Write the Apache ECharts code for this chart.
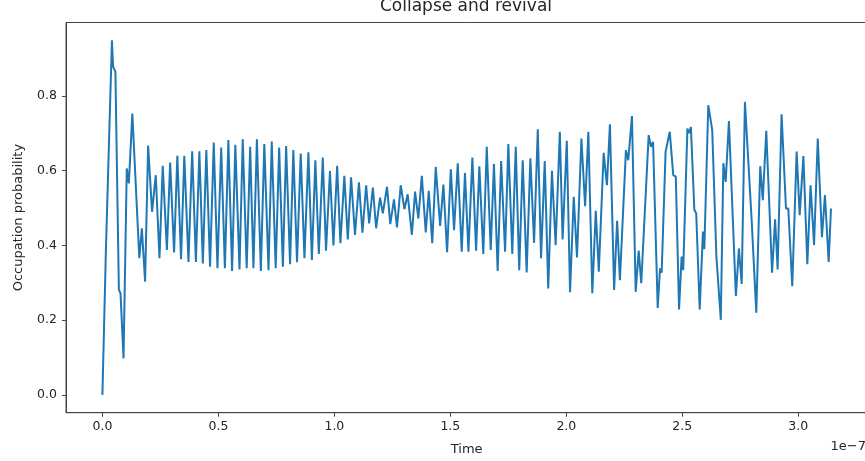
<!DOCTYPE html>
<html>
<head>
<meta charset="utf-8">
<script src="https://cdn.jsdelivr.net/npm/echarts@6/dist/echarts.min.js"></script>
<style>
  html, body { margin: 0; padding: 0; background: #fff; overflow: hidden; }
  #chart { width: 872px; height: 461px; }
</style>
</head>
<body>
<div id="chart"></div>
<script>
// time in units of 1e-7 (matplotlib offset text)
var times = [
  0.000, 0.015, 0.023, 0.041, 0.046, 0.056, 0.071, 0.078, 0.091, 0.105,
  0.114, 0.129, 0.159, 0.170, 0.184, 0.197, 0.214, 0.230, 0.246, 0.260,
  0.278, 0.292, 0.309, 0.323, 0.339, 0.353, 0.371, 0.387, 0.403, 0.418,
  0.433, 0.448, 0.464, 0.480, 0.496, 0.512, 0.528, 0.543, 0.559, 0.573,
  0.591, 0.605, 0.622, 0.637, 0.651, 0.666, 0.683, 0.698, 0.716, 0.730,
  0.747, 0.762, 0.778, 0.792, 0.809, 0.823, 0.839, 0.855, 0.871, 0.888,
  0.903, 0.918, 0.933, 0.950, 0.964, 0.981, 0.996, 1.012, 1.026, 1.043,
  1.058, 1.072, 1.089, 1.106, 1.121, 1.137, 1.150, 1.166, 1.180, 1.197,
  1.209, 1.227, 1.241, 1.257, 1.270, 1.286, 1.302, 1.316, 1.334, 1.348,
  1.362, 1.377, 1.394, 1.407, 1.422, 1.437, 1.456, 1.470, 1.486, 1.502,
  1.516, 1.532, 1.549, 1.563, 1.578, 1.595, 1.611, 1.625, 1.642, 1.657,
  1.674, 1.688, 1.704, 1.719, 1.736, 1.750, 1.767, 1.782, 1.797, 1.812,
  1.829, 1.845, 1.861, 1.877, 1.891, 1.907, 1.922, 1.938, 1.954, 1.972,
  1.984, 2.002, 2.016, 2.032, 2.046, 2.065, 2.081, 2.095, 2.112, 2.127,
  2.140, 2.161, 2.175, 2.188, 2.206, 2.219, 2.231, 2.257, 2.267, 2.283,
  2.299, 2.312, 2.323, 2.355, 2.365, 2.374, 2.394, 2.404, 2.411, 2.428,
  2.446, 2.461, 2.472, 2.486, 2.497, 2.504, 2.522, 2.529, 2.537, 2.552,
  2.560, 2.575, 2.589, 2.595, 2.612, 2.629, 2.647, 2.666, 2.677, 2.687,
  2.701, 2.731, 2.744, 2.756, 2.770, 2.799, 2.819, 2.836, 2.847, 2.862,
  2.887, 2.900, 2.911, 2.928, 2.947, 2.957, 2.974, 2.993, 3.006, 3.022,
  3.039, 3.053, 3.068, 3.084, 3.102, 3.115, 3.131, 3.141
];
var probability = [
  0.000, 0.388, 0.384, 0.949, 0.878, 0.865, 0.281, 0.272, 0.098, 0.606,
  0.566, 0.753, 0.366, 0.446, 0.303, 0.667, 0.490, 0.588, 0.366, 0.613,
  0.388, 0.622, 0.381, 0.640, 0.363, 0.640, 0.356, 0.652, 0.356, 0.652,
  0.352, 0.655, 0.343, 0.675, 0.339, 0.662, 0.339, 0.682, 0.332, 0.669,
  0.336, 0.684, 0.339, 0.664, 0.339, 0.684, 0.332, 0.671, 0.334, 0.678,
  0.339, 0.662, 0.343, 0.666, 0.350, 0.655, 0.355, 0.646, 0.366, 0.649,
  0.361, 0.628, 0.377, 0.635, 0.386, 0.599, 0.400, 0.613, 0.406, 0.586,
  0.416, 0.582, 0.428, 0.569, 0.434, 0.561, 0.459, 0.555, 0.446, 0.528,
  0.486, 0.557, 0.457, 0.523, 0.448, 0.561, 0.497, 0.537, 0.428, 0.544,
  0.472, 0.586, 0.435, 0.546, 0.406, 0.610, 0.452, 0.563, 0.382, 0.604,
  0.441, 0.620, 0.383, 0.594, 0.383, 0.635, 0.386, 0.612, 0.377, 0.664,
  0.388, 0.618, 0.332, 0.626, 0.383, 0.671, 0.377, 0.664, 0.334, 0.628,
  0.328, 0.633, 0.407, 0.711, 0.366, 0.626, 0.285, 0.600, 0.401, 0.704,
  0.416, 0.680, 0.275, 0.530, 0.368, 0.686, 0.505, 0.704, 0.272, 0.493,
  0.330, 0.648, 0.561, 0.724, 0.281, 0.466, 0.307, 0.655, 0.628, 0.746,
  0.276, 0.386, 0.299, 0.695, 0.664, 0.677, 0.233, 0.339, 0.327, 0.651,
  0.704, 0.588, 0.584, 0.229, 0.370, 0.334, 0.713, 0.700, 0.717, 0.495,
  0.486, 0.229, 0.437, 0.390, 0.775, 0.709, 0.370, 0.201, 0.620, 0.570,
  0.733, 0.265, 0.392, 0.297, 0.784, 0.468, 0.220, 0.612, 0.521, 0.707,
  0.327, 0.470, 0.336, 0.751, 0.499, 0.499, 0.291, 0.651, 0.481, 0.639,
  0.350, 0.561, 0.401, 0.686, 0.422, 0.535, 0.356, 0.499
];
var xTicks = [0, 0.5, 1.0, 1.5, 2.0, 2.5, 3.0];
var yTicks = [0, 0.2, 0.4, 0.6, 0.8];

var chartDom = document.getElementById('chart');
var myChart = echarts.init(chartDom, null, { renderer: 'canvas' });

var font = 'DejaVu Sans';
var textColor = '#262626';
var spineColor = '#444';

var points = times.map(function (t, i) { return [t, probability[i]]; });

var option = {
  animation: false,
  textStyle: { fontFamily: font },
  // the figure is cropped on the right: the plot box runs past the window edge
  grid: {
    left: 66,
    top: 22.5,
    width: 801.4,
    height: 390.2,
    show: true,
    borderColor: spineColor,
    borderWidth: 1,
    backgroundColor: 'transparent'
  },
  graphic: [
    {
      type: 'text',
      x: 466,
      y: 6.5,
      style: {
        text: 'Collapse and revival',
        fontFamily: font,
        fontSize: 17,
        fill: textColor,
        align: 'center',
        verticalAlign: 'middle'
      }
    },
    {
      type: 'text',
      x: 866,
      y: 446.5,
      style: {
        text: '1e\u22127',
        fontFamily: font,
        fontSize: 13,
        fill: textColor,
        align: 'right',
        verticalAlign: 'middle'
      }
    }
  ],
  xAxis: {
    type: 'value',
    min: -0.157,
    max: 3.298,
    name: 'Time',
    nameLocation: 'middle',
    nameGap: 30,
    nameTextStyle: { fontFamily: font, fontSize: 13, color: textColor },
    axisLine: { show: true, onZero: false, lineStyle: { color: spineColor, width: 1 } },
    axisTick: { show: true, length: 4, customValues: xTicks, lineStyle: { color: spineColor } },
    axisLabel: {
      customValues: xTicks,
      margin: 8,
      fontFamily: font,
      fontSize: 12.5,
      color: textColor,
      formatter: function (v) { return v.toFixed(1); }
    },
    splitLine: { show: false }
  },
  yAxis: {
    type: 'value',
    min: -0.0474,
    max: 0.9964,
    name: 'Occupation probability',
    nameLocation: 'middle',
    nameGap: 41,
    nameRotate: 90,
    nameTextStyle: { fontFamily: font, fontSize: 13, color: textColor },
    axisLine: { show: true, onZero: false, lineStyle: { color: spineColor, width: 1 } },
    axisTick: { show: true, length: 4, customValues: yTicks, lineStyle: { color: spineColor } },
    axisLabel: {
      customValues: yTicks,
      margin: 9,
      fontFamily: font,
      fontSize: 12.5,
      color: textColor,
      formatter: function (v) { return v.toFixed(1); }
    },
    splitLine: { show: false }
  },
  series: [
    {
      type: 'line',
      data: points,
      showSymbol: false,
      symbol: 'none',
      lineStyle: { color: '#1f77b4', width: 2 },
      clip: true
    }
  ]
};

myChart.setOption(option);
</script>
</body>
</html>
